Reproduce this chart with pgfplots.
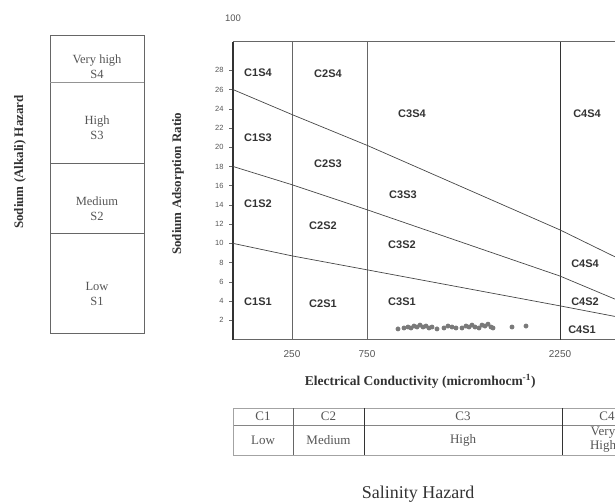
\documentclass[border=0pt]{standalone}
\usepackage{fontspec}
\setmainfont{Liberation Serif}
\newfontfamily\lab{Liberation Sans}
\usepackage{pgfplots}
\pgfplotsset{compat=1.18}

\definecolor{ink}{HTML}{333333}
\definecolor{soft}{HTML}{555555}
\definecolor{rule}{HTML}{666666}
\definecolor{dots}{HTML}{7A7A7A}

\begin{document}
\begin{tikzpicture}[x=1pt,y=1pt]
\useasboundingbox (0,0) rectangle (615,501);

% sodium hazard box on the left
\draw[rule, line width=1pt] (50,168) rectangle (144,465);
\draw[rule!70, line width=0.6pt] (50,419) -- (144,419);
\draw[rule, line width=0.6pt] (50,338) -- (144,338);
\draw[rule, line width=0.6pt] (50,268) -- (144,268);
\begin{scope}[every node/.style={soft, font=\fontsize{12.5}{15}\selectfont, align=center}]
\node at (97,434) {Very high\\S4};
\node at (97,373) {High\\S3};
\node at (97,292) {Medium\\S2};
\node at (97,207) {Low\\S1};
\end{scope}
\node[ink, rotate=90, font=\bfseries\fontsize{13}{15}\selectfont] at (20,339) {Sodium (Alkali) Hazard};

\node[soft, font=\lab\fontsize{9.5}{11}\selectfont] at (233,483) {100};

\begin{axis}[
  at={(233,168)}, anchor=south west,
  scale only axis, width=382pt, height=298pt,
  xmin=0, xmax=382, ymin=0, ymax=31,
  axis x line*=box, axis y line*=left,
  x axis line style={rule, line width=0.8pt},
  y axis line style={ink, line width=1.3pt},
  xtick={59,134,327}, xticklabels={250,750,2250},
  xtick pos=bottom, major x tick style={draw=none},
  ytick={2,4,...,28}, ytick pos=left, tick align=outside,
  major y tick style={rule, line width=0.5pt}, major tick length=4pt,
  /pgf/number format/assume math mode=true,
  xticklabel style={soft, font=\lab\fontsize{10}{11}\selectfont},
  yticklabel style={soft, font=\lab\fontsize{7.5}{9}\selectfont},
  xticklabel shift=3pt, yticklabel shift=2pt,
  xlabel={Electrical Conductivity (micromhocm\textsuperscript{-1})},
  ylabel={Sodium Adsorption Ratio},
  xlabel style={ink, font=\bfseries\fontsize{13.5}{15}\selectfont, at={(axis description cs:0.49,-0.141)}, anchor=center},
  ylabel style={ink, font=\bfseries\fontsize{13}{15}\selectfont, at={(axis description cs:-0.144,0.523)}, anchor=center},
  clip=false,
]
% salinity class limits
\addplot[rule, line width=0.7pt] coordinates {(59,0) (59,31)};
\addplot[rule, line width=0.7pt] coordinates {(134,0) (134,31)};
\addplot[ink, line width=1pt] coordinates {(327,0) (327,31)};
% sodium class limits
\addplot[ink!90, line width=0.7pt] coordinates {(0,26.0) (59,23.4) (134,20.2) (327,11.4) (382,8.6)};
\addplot[ink!90, line width=0.7pt] coordinates {(0,18.0) (59,16.1) (134,13.5) (327,6.6) (382,4.2)};
\addplot[ink!90, line width=0.7pt] coordinates {(0,10.0) (59,8.7) (134,7.25) (327,3.5) (382,2.4)};
% samples
\addplot[only marks, mark=*, mark size=2.2pt, dots, mark options={draw=dots, fill=dots}] coordinates {
 (165,1.1) (171,1.2) (175,1.3) (178,1.2) (181,1.4) (184,1.3) (187,1.5) (190,1.3)
 (193,1.4) (196,1.2) (199,1.3) (204,1.1) (211,1.2) (215,1.4) (219,1.3) (223,1.2)
 (229,1.2) (233,1.4) (236,1.3) (239,1.5) (242,1.3) (246,1.2) (249,1.5) (252,1.4)
 (255,1.6) (258,1.3) (260,1.2) (279,1.3) (293,1.4)
};
\begin{scope}[every node/.style={ink, font=\lab\bfseries\fontsize{11}{12}\selectfont}]
\node at (axis cs:25,27.8) {C1S4};
\node at (axis cs:95,27.6) {C2S4};
\node at (axis cs:179,23.5) {C3S4};
\node at (axis cs:354,23.5) {C4S4};
\node at (axis cs:25,21.0) {C1S3};
\node at (axis cs:95,18.3) {C2S3};
\node at (axis cs:170,15.1) {C3S3};
\node at (axis cs:25,14.1) {C1S2};
\node at (axis cs:90,11.8) {C2S2};
\node at (axis cs:169,9.9) {C3S2};
\node at (axis cs:352,7.9) {C4S4};
\node at (axis cs:25,3.9) {C1S1};
\node at (axis cs:90,3.7) {C2S1};
\node at (axis cs:169,3.9) {C3S1};
\node at (axis cs:352,3.9) {C4S2};
\node at (axis cs:349,1.0) {C4S1};
\end{scope}
\end{axis}

% salinity hazard table below
\draw[rule!60, line width=0.6pt] (233,93) -- (640,93);
\draw[rule!80, line width=0.8pt] (233,76) -- (640,76);
\draw[rule!60, line width=0.6pt] (233,46) -- (640,46);
\draw[rule!60, line width=0.6pt] (233,46) -- (233,93);
\draw[rule, line width=0.6pt] (293,46) -- (293,93);
\draw[ink, line width=1pt] (364,46) -- (364,93);
\draw[ink, line width=1pt] (562,46) -- (562,93);
\begin{scope}[every node/.style={soft, font=\fontsize{13}{14}\selectfont, align=center}]
\node at (263,85) {C1};
\node at (328.5,85) {C2};
\node at (463,85) {C3};
\node at (607,85) {C4};
\node at (263,61) {Low};
\node at (328.5,61) {Medium};
\node at (463,61) {High};
\node at (603,61) {Very\\High};
\end{scope}
\node[ink, font=\fontsize{18}{20}\selectfont] at (418,7) {Salinity Hazard};
\end{tikzpicture}
\end{document}
